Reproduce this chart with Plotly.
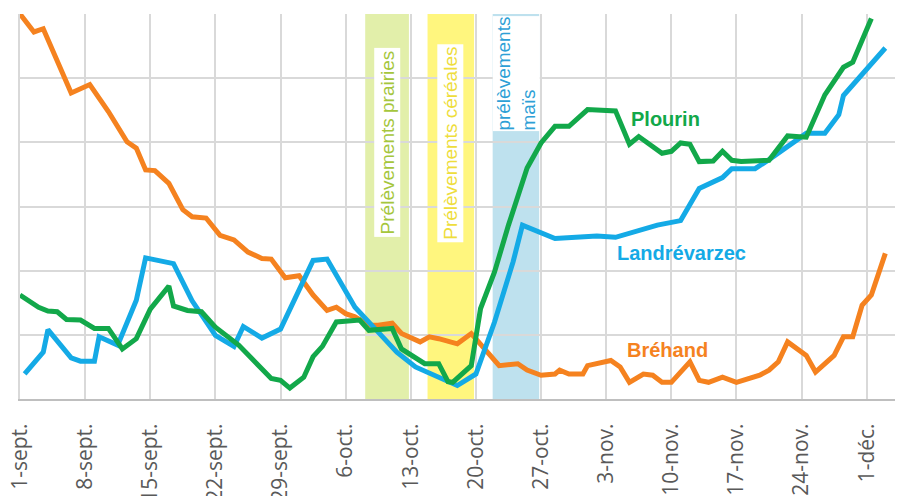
import plotly.graph_objects as go
import pandas as pd

debut = pd.Timestamp("2019-09-01")

# jours comptés depuis le 1er septembre
jours_brehand = [0, 1.5, 2.5, 5.5, 7.5, 9.5, 11.5, 12.5, 13.5, 14.5, 16, 17.5, 18.5, 20, 21.5, 23,
                 24.5, 26, 27, 28.5, 30, 31.5, 33, 34, 35, 36, 37.5, 38.5, 40, 41, 43, 44, 45, 47,
                 48.5, 50, 51.5, 53.5, 54.5, 56, 57.5, 58, 59, 60.5, 61, 63.5, 64.5, 65.5, 67, 68,
                 69, 70, 72, 73, 74, 75.5, 77, 79.5, 80.5, 81.5, 82.5, 84.5, 85.5, 87.5, 88.5, 89.5,
                 90.5, 91.5, 93]
brehand = [60, 57.2, 57.7, 47.7, 49, 44.8, 40.1, 39.1, 35.7, 35.6, 33.6, 29.5, 28.4, 28.2, 25.5, 24.8,
           22.9, 21.9, 21.8, 18.9, 19.2, 16.2, 13.8, 14.3, 13.3, 12.8, 11.5, 11.5, 11.8, 10.2, 8.9, 9.7, 9.4, 8.6,
           10.2, 7.8, 5.2, 5.5, 4.5, 3.7, 3.9, 4.5, 3.9, 3.9, 5.2, 6.0, 5.0, 2.6, 3.9, 3.7,
           2.6, 2.6, 5.8, 2.9, 2.6, 3.4, 2.6, 3.7, 4.5, 5.8, 8.9, 6.8, 4.2, 6.8, 9.7, 9.7,
           14.6, 16.2, 22.7]

jours_plourin = [0, 1.5, 2, 3, 4, 5, 6.5, 8, 9.5, 11, 12.5, 14, 16, 16.5, 18, 19.5, 21, 23.5, 25.5,
                 27, 28, 29, 30.5, 31.5, 32.5, 34, 36.5, 37.5, 40, 41, 43.5, 45, 46, 46.5, 48.5,
                 49.5, 51, 52.5, 54.5, 56, 57.5, 59, 61, 64, 65.5, 66.5, 69, 70, 71, 72, 73, 74.5,
                 75.5, 76.5, 77.5, 80.5, 82.5, 84.5, 86.5, 88.5, 89.5, 91.5]
plourin = [16.2, 14.6, 14.3, 13.7, 13.6, 12.4, 12.3, 11.0, 11.0, 7.8, 9.4, 14.0, 17.6, 14.5, 13.8, 13.6, 11.2, 8.4, 5.5,
           3.2, 2.9, 1.7, 3.4, 6.6, 8.2, 12.0, 12.3, 10.7, 11.0, 7.8, 5.5, 5.5, 2.7, 2.6, 5.2,
           14.1, 19.8, 27.1, 36.0, 39.9, 42.5, 42.5, 45.1, 44.9, 39.7, 40.9, 38.3, 38.6, 39.9, 39.7, 37.0, 37.1,
           38.6, 37.2, 37.0, 37.2, 41.0, 40.8, 47.4, 51.7, 52.5, 59.3]

jours_landrevarzec = [0.5, 2.5, 3, 5.5, 6.5, 8, 8.5, 10.5, 12.5, 13.5, 16.5, 18.5, 21, 23, 24, 26, 28,
                      31.5, 33, 36, 38, 40.5, 42.5, 45.5, 47, 49, 51, 53, 54, 57.5, 62, 64, 66.5,
                      68.5, 71, 73, 75.5, 76.5, 79, 80.5, 84.5, 86.5, 88, 88.5, 93]
landrevarzec = [3.9, 7.3, 10.8, 6.4, 5.9, 5.9, 9.7, 8.4, 15.4, 22.0, 21.1, 15.3, 9.9, 8.2, 11.3, 9.5, 10.9,
                21.6, 21.8, 14.3, 11.2, 7.3, 5.0, 3.2, 2.1, 3.9, 12.0, 21.4, 27.1, 25.0, 25.4, 25.2, 26.3,
                27.1, 27.8, 32.8, 34.5, 35.9, 35.9, 37.3, 41.4, 41.4, 44.3, 47.3, 54.7]

# périodes de prélèvements (jours depuis le 1er septembre)
periodes = ["Prélèvements prairies", "Prélèvements céréales", "prélèvements<br>maïs"]
periodes_debut = [37.1, 43.8, 50.8]
periodes_fin = [41.8, 48.8, 55.8]

tick_jours = [0, 7, 14, 21, 28, 35, 42, 49, 56, 63, 70, 77, 84, 91]
tick_labels = ["1-sept.", "8-sept.", "15-sept.", "22-sept.", "29-sept.", "6-oct.", "13-oct.",
               "20-oct.", "27-oct.", "3-nov.", "10-nov.", "17-nov.", "24-nov.", "1-déc."]


def to_dates(jours):
    return [debut + pd.Timedelta(days=j) for j in jours]


c_orange = "#F5821F"
c_vert = "#12A84A"
c_bleu = "#14AAE6"

fig = go.Figure()
fig.add_trace(go.Scatter(x=to_dates(jours_brehand), y=brehand, mode="lines", name="Bréhand",
                         line=dict(color=c_orange, width=5)))
fig.add_trace(go.Scatter(x=to_dates(jours_landrevarzec), y=landrevarzec, mode="lines", name="Landrévarzec",
                         line=dict(color=c_bleu, width=5)))
fig.add_trace(go.Scatter(x=to_dates(jours_plourin), y=plourin, mode="lines", name="Plourin",
                         line=dict(color=c_vert, width=5)))

band_colors = ["#E2EFAA", "#FFF67E", "#BEE1EE"]
label_colors = ["#A5C63C", "#EEDD3C", "#2E9FD6"]
label_y = [40.0, 39.9, 50.7]
label_size = [19, 19, 19]
label_pad = [2, 2, 0]
for i, nom in enumerate(periodes):
    x0 = debut + pd.Timedelta(days=periodes_debut[i])
    x1 = debut + pd.Timedelta(days=periodes_fin[i])
    fig.add_shape(type="rect", xref="x", yref="paper", x0=x0, x1=x1, y0=0, y1=1,
                  fillcolor=band_colors[i], line_width=0, layer="below")
    xm = debut + pd.Timedelta(days=(periodes_debut[i] + periodes_fin[i]) / 2)
    fig.add_annotation(x=xm, y=label_y[i], text=nom, textangle=-90, showarrow=False,
                       align="left", bgcolor="white", borderpad=label_pad[i],
                       font=dict(family="Liberation Sans, Arial", size=label_size[i], color=label_colors[i]))

# étiquettes des séries
for nom, j, v, c in [("Plourin", 69.4, 43.6, c_vert), ("Landrévarzec", 71.1, 22.8, c_bleu),
                     ("Bréhand", 69.6, 7.6, c_orange)]:
    fig.add_annotation(x=debut + pd.Timedelta(days=j), y=v, text="<b>%s</b>" % nom, showarrow=False,
                       font=dict(family="Liberation Sans, Arial", size=20, color=c))

# la page ajoute 8 px de marge autour de la figure
fig.update_layout(
    width=895, height=488,
    margin=dict(l=12, r=0, t=6, b=97),
    plot_bgcolor="white", paper_bgcolor="white",
    showlegend=False,
)
fig.update_xaxes(
    type="date",
    range=[debut, debut + pd.Timedelta(days=94.9)],
    tickvals=to_dates(tick_jours), ticktext=tick_labels,
    tickangle=-90,
    tickfont=dict(family="Open Sans", size=21, color="#595959"),
    ticklabelstandoff=14, ticklabeloverflow="allow",
    showgrid=True, gridcolor="#D9D9D9", gridwidth=1.5,
    showline=True, linecolor="#BFBFBF", linewidth=2,
    ticks="", automargin=False,
)
fig.update_yaxes(
    range=[0, 60], dtick=10,
    showticklabels=False,
    showgrid=True, gridcolor="#D9D9D9", gridwidth=1.5,
    zeroline=False,
    showline=True, linecolor="#D9D9D9", linewidth=1.5,
    automargin=False,
)

fig.write_html("out.html")
